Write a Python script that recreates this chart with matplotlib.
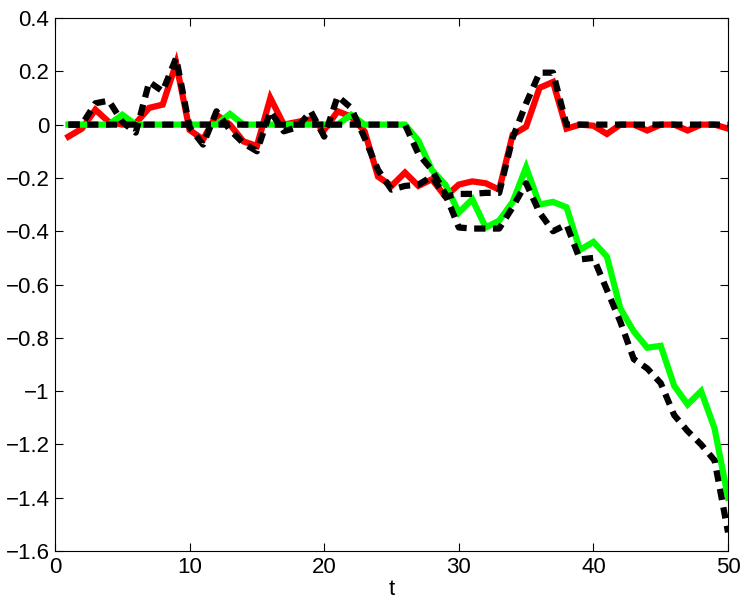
import numpy as np
import matplotlib.pyplot as plt

plt.rcParams['font.family'] = ['Liberation Sans', 'DejaVu Sans']

# time steps
t = np.arange(1, 51)

# estimate 1 (red) and its true signal (black dashed)
red = [-0.045, -0.015, 0.056, 0.01, 0.0, 0.005, 0.063, 0.075, 0.23, -0.02,
       -0.056, 0.037, 0.0, -0.063, -0.08, 0.1, 0.0, 0.01, 0.02, -0.02,
       0.05, 0.03, -0.025, -0.195, -0.23, -0.18, -0.23, -0.205, -0.27, -0.225,
       -0.213, -0.22, -0.244, -0.038, -0.008, 0.138, 0.16, -0.015, 0.0, -0.004,
       -0.035, 0.0, 0.0, -0.022, 0.0, 0.0, -0.022, 0.0, 0.0, -0.015]
true1 = [0.0, 0.0, 0.08, 0.09, 0.01, -0.03, 0.16, 0.125, 0.25, -0.01,
         -0.075, 0.05, -0.02, -0.07, -0.1, 0.05, -0.025, -0.01, 0.05, -0.045,
         0.106, 0.063, -0.05, -0.17, -0.244, -0.23, -0.225, -0.195, -0.27, -0.26,
         -0.26, -0.256, -0.256, -0.05, 0.08, 0.195, 0.195, 0.0, 0.0, 0.0,
         0.0, 0.0, 0.0, 0.0, 0.0, 0.0, 0.0, 0.0, 0.0, 0.0]

# estimate 2 (green) and its true signal (black dashed)
green = [0.0, 0.0, 0.0, 0.0, 0.037, 0.0, 0.0, 0.0, 0.0, 0.0,
         0.0, 0.0, 0.04, 0.0, 0.0, 0.0, 0.0, 0.0, 0.0, 0.0,
         0.0, 0.037, 0.0, 0.0, 0.0, 0.0, -0.06, -0.17, -0.225, -0.33,
         -0.28, -0.386, -0.36, -0.29, -0.16, -0.3, -0.29, -0.31, -0.47, -0.44,
         -0.495, -0.69, -0.776, -0.837, -0.83, -0.98, -1.05, -1.0, -1.14, -1.4]
true2 = [0.0] * 26 + [-0.11, -0.17, -0.26, -0.386,
         -0.39, -0.39, -0.39, -0.31, -0.22, -0.33, -0.4, -0.375, -0.506, -0.5,
         -0.62, -0.74, -0.88, -0.915, -0.97, -1.09, -1.15, -1.2, -1.26, -1.53]

yticks = [-1.6, -1.4, -1.2, -1.0, -0.8, -0.6, -0.4, -0.2, 0.0, 0.2, 0.4]

fig = plt.figure(figsize=(7.47, 6.13), dpi=100)
ax = fig.add_axes([0.0736, 0.1011, 0.9010, 0.8695])

ax.plot(t, red, color='#ff0000', lw=4.5, solid_joinstyle='miter')
ax.plot(t, green, color='#00ff00', lw=4.5, solid_joinstyle='miter')
ax.plot(t, true1, color='black', lw=4.5, dashes=(1.8, 1.2))
ax.plot(t, true2, color='black', lw=4.5, dashes=(1.8, 1.2))

ax.set_xlim(0, 50)
ax.set_ylim(-1.6, 0.4)
ax.set_xticks(np.arange(0, 51, 10))
ax.set_yticks(yticks)
ax.set_yticklabels([('%g' % v).replace('-', '\u2212') if v != 0 else '0' for v in yticks])
ax.tick_params(direction='in', top=True, right=True, length=6, labelsize=16, width=0.8, pad=4)
ax.set_xlabel('t', fontsize=16, labelpad=1)
for s in ax.spines.values():
    s.set_linewidth(0.8)

fig.savefig('out.png', dpi=100)
